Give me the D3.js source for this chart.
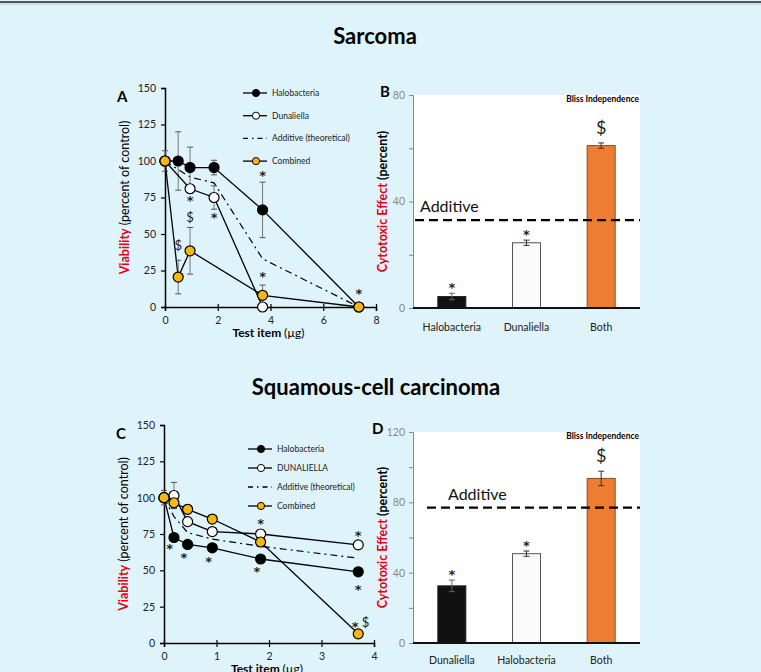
<!DOCTYPE html>
<html>
<head>
<meta charset="utf-8">
<script src="https://cdn.jsdelivr.net/npm/d3@7"></script>
<style>
  body { margin: 0; background: #dff3fa; }
  svg { display: block; font-family: Lato, "Open Sans", sans-serif; }
</style>
</head>
<body>
<div id="chart"></div>
<script>
// --- Data: Sarcoma (panel A) ---
const sarcHaloX = [0, 0.5, 0.95, 1.86, 3.7, 7.35];
const sarcHaloY = [100, 100, 95.5, 95.5, 66.5, 0];
const sarcHaloErr = [7, 20, 14, 5, 19, 0];
const sarcDunaX = [0, 0.95, 1.86, 3.7];
const sarcDunaY = [100, 81, 75, 0];
const sarcDunaErr = [0, 0, 8, 0];
const sarcAddX = [0, 0.95, 1.86, 3.7, 7.35];
const sarcAddY = [100, 89, 85, 33, 0];
const sarcCombX = [0, 0.5, 0.95, 3.7, 7.35];
const sarcCombY = [100, 20.5, 38.5, 8, 0];
const sarcCombErr = [0, 11.5, 16, 7, 0];
const sarcMarks = [
  { x: 0.95, y: 70, t: "*" }, { x: 0.95, y: 58, t: "$" }, { x: 0.5, y: 39, t: "$" },
  { x: 1.86, y: 58, t: "*" }, { x: 3.7, y: 87, t: "*" }, { x: 3.7, y: 17.5, t: "*" },
  { x: 7.35, y: 6, t: "*" }
];

// --- Data: Sarcoma bars (panel B) ---
const sarcBarCats = ["Halobacteria", "Dunaliella", "Both"];
const sarcBarVals = [4.3, 24.5, 61];
const sarcBarErr = [1.2, 1, 1];
const sarcBarMarks = ["*", "*", "$"];
const sarcAdditive = 33;

// --- Data: Squamous-cell carcinoma (panel C) ---
const sqHaloX = [0, 0.19, 0.45, 0.92, 1.84, 3.7];
const sqHaloY = [100, 72.6, 67.8, 65.5, 57.8, 49];
const sqDunaX = [0, 0.19, 0.45, 0.92, 1.84, 3.7];
const sqDunaY = [100, 101.5, 83.5, 76.7, 75, 67.5];
const sqDunaErr = [5, 9, 0, 0, 3, 0];
const sqAddX = [0, 0.19, 0.45, 0.92, 1.84, 3.7];
const sqAddY = [100, 87, 76, 71.5, 66.5, 58.4];
const sqCombX = [0, 0.19, 0.45, 0.92, 1.84, 3.7];
const sqCombY = [100, 96.5, 92, 85.3, 69.5, 6.3];
const sqCombErr = [0, 4, 3, 0, 0, 0];
const sqMarks = [
  { x: 0.11, y: 62, t: "*" }, { x: 0.38, y: 56, t: "*" }, { x: 0.85, y: 53, t: "*" },
  { x: 1.77, y: 46, t: "*" }, { x: 3.7, y: 34, t: "*" }, { x: 1.84, y: 79, t: "*" },
  { x: 3.7, y: 71, t: "*" }, { x: 3.64, y: 8.5, t: "*" }, { x: 3.84, y: 11, t: "$" }
];

// --- Data: Squamous-cell bars (panel D) ---
const sqBarCats = ["Dunaliella", "Halobacteria", "Both"];
const sqBarVals = [32.5, 50.8, 93.6];
const sqBarErr = [3.3, 1.5, 4.1];
const sqBarMarks = ["*", "*", "$"];
const sqAdditive = 77;

const W = 761, H = 672;
const RED = "#e3000f";
const GOLD = "#f6b70e";
const STAR_FONT = "'DejaVu Sans', sans-serif";

const svg = d3.select("#chart").append("svg")
    .attr("width", W)
    .attr("height", H);

svg.append("rect").attr("width", W).attr("height", H).attr("fill", "#dff3fa");
svg.append("line").attr("x1", 0).attr("x2", W).attr("y1", 2).attr("y2", 2)
    .attr("stroke", "#555").attr("stroke-width", 2);
svg.append("line").attr("x1", 0).attr("x2", W).attr("y1", 4).attr("y2", 4)
    .attr("stroke", "#b5c4c9").attr("stroke-width", 1);

// Titles
svg.append("text").attr("x", 375).attr("y", 44).attr("text-anchor", "middle")
    .attr("font-size", 22).attr("font-weight", "bold").text("Sarcoma");
svg.append("text").attr("x", 376).attr("y", 395).attr("text-anchor", "middle")
    .attr("font-size", 22).attr("font-weight", "bold").text("Squamous-cell carcinoma");

function markText(sel) {
    sel.attr("font-family", d => d.t === "*" ? STAR_FONT : null)
        .attr("font-weight", d => d.t === "*" ? "bold" : null)
        .attr("font-size", d => d.t === "$" ? 13 : 13)
        .attr("fill", "#222")
        .text(d => d.t);
}

// --- Line panel ---
function drawLinePanel(cfg) {
    const x = d3.scaleLinear().domain(cfg.xDomain).range(cfg.xRange);
    const y = d3.scaleLinear().domain([0, 150]).range(cfg.yRange);
    const g = svg.append("g");

    // axes
    const yAxis = g.append("g").attr("transform", `translate(${cfg.xRange[0]},0)`)
        .call(d3.axisLeft(y).tickValues([0, 25, 50, 75, 100, 125, 150]).tickSize(4).tickPadding(5));
    const xAxis = g.append("g").attr("transform", `translate(0,${cfg.yRange[0]})`)
        .call(d3.axisBottom(x).ticks(cfg.xTicks).tickSize(4).tickPadding(6));
    [xAxis, yAxis].forEach(a => {
        a.select(".domain").attr("stroke", "#000").attr("stroke-width", 1.5);
        a.selectAll(".tick line").attr("stroke", "#000").attr("stroke-width", 1.2);
        a.selectAll(".tick text").attr("font-size", 10.5).attr("fill", "#222")
            .attr("font-family", "Lato, sans-serif");
    });
    xAxis.selectAll(".tick line").attr("y1", -3).attr("y2", 4);

    const line = d3.line().x(d => x(d[0])).y(d => y(d[1]));
    const zip = (xs, ys) => xs.map((v, i) => [v, ys[i]]);

    // additive (theoretical) dash-dot
    g.append("path").datum(zip(cfg.addX, cfg.addY)).attr("d", line)
        .attr("fill", "none").attr("stroke", "#000").attr("stroke-width", 1.2)
        .attr("stroke-dasharray", "7,4,2,4");

    cfg.series.forEach(s => {
        const pts = zip(s.x, s.y);
        g.append("path").datum(pts).attr("d", line)
            .attr("fill", "none").attr("stroke", "#000").attr("stroke-width", 1.3);
        // error bars
        s.x.forEach((xv, i) => {
            const e = s.err ? s.err[i] : 0;
            if (!e) return;
            const cx = x(xv);
            g.append("line").attr("x1", cx).attr("x2", cx)
                .attr("y1", y(s.y[i] - e)).attr("y2", y(s.y[i] + e))
                .attr("stroke", "#777").attr("stroke-width", 1);
            [s.y[i] - e, s.y[i] + e].forEach(v => {
                g.append("line").attr("x1", cx - 3).attr("x2", cx + 3)
                    .attr("y1", y(v)).attr("y2", y(v))
                    .attr("stroke", "#555").attr("stroke-width", 1);
            });
        });
    });
    cfg.series.forEach(s => {
        g.selectAll(null).data(zip(s.x, s.y)).join("circle")
            .attr("cx", d => x(d[0])).attr("cy", d => y(d[1])).attr("r", 5)
            .attr("fill", s.fill).attr("stroke", "#000").attr("stroke-width", 1.2);
    });

    // significance marks
    g.selectAll(null).data(cfg.marks).join("text")
        .attr("x", d => x(d.x)).attr("y", d => y(d.y))
        .attr("text-anchor", "middle")
        .call(markText);

    // legend
    cfg.legend.forEach((item, i) => {
        const ly = cfg.legendY + i * cfg.legendStep;
        const lx = cfg.legendX;
        g.append("line").attr("x1", lx).attr("x2", lx + 24).attr("y1", ly).attr("y2", ly)
            .attr("stroke", "#000").attr("stroke-width", 1.3)
            .attr("stroke-dasharray", item.dash ? "5,4,1.5,4" : null);
        if (item.fill) {
            g.append("circle").attr("cx", lx + 13).attr("cy", ly).attr("r", 3.6)
                .attr("fill", item.fill).attr("stroke", "#000").attr("stroke-width", 1);
        }
        g.append("text").attr("x", lx + 29).attr("y", ly + 3)
            .attr("font-size", 8.5).attr("fill", "#222").text(item.label);
    });

    // axis titles
    const xl = g.append("text").attr("x", (cfg.xRange[0] + cfg.xRange[1]) / 2 - 2)
        .attr("y", cfg.yRange[0] + 30).attr("text-anchor", "middle").attr("font-size", 12);
    xl.append("tspan").attr("font-weight", "bold").text("Test item ");
    xl.append("tspan").text("(\u00b5g)");

    const yl = g.append("text")
        .attr("transform", `translate(${cfg.xRange[0] - 36},${(cfg.yRange[0] + cfg.yRange[1]) / 2}) rotate(-90)`)
        .attr("text-anchor", "middle").attr("font-size", 12.5);
    yl.append("tspan").attr("font-weight", "bold").attr("fill", RED).text("Viability");
    yl.append("tspan").text(" (percent of control)");

    g.append("text").attr("x", cfg.xRange[0] - 48).attr("y", cfg.yRange[1] + 14)
        .attr("font-size", 15).attr("font-weight", "bold").text(cfg.letter);
}

// --- Bar panel ---
function drawBarPanel(cfg) {
    const x = d3.scalePoint().domain(cfg.cats).range(cfg.xRange).padding(0.52);
    const y = d3.scaleLinear().domain([0, cfg.yMax]).range(cfg.yRange);
    const g = svg.append("g");
    const bw = 28;

    g.append("rect").attr("x", cfg.xRange[0]).attr("y", cfg.yRange[1])
        .attr("width", cfg.xRange[1] - cfg.xRange[0]).attr("height", cfg.yRange[0] - cfg.yRange[1])
        .attr("fill", "#fff");

    const yAxis = g.append("g").attr("transform", `translate(${cfg.xRange[0]},0)`)
        .call(d3.axisLeft(y).tickValues(d3.range(0, cfg.yMax + 1, 20)).tickSize(4).tickPadding(4)
            .tickFormat(d => (d % 40 === 0) ? d : ""));
    yAxis.select(".domain").attr("stroke", "#888");
    yAxis.selectAll(".tick line").attr("stroke", "#888");
    yAxis.selectAll(".tick text").attr("font-size", 10.5).attr("fill", "#888")
        .attr("font-family", "Lato, sans-serif");

    const fills = ["#111", "#fafafa", "#ed7d31"];
    const strokes = ["#222", "#555", "#8b4a1c"];
    cfg.cats.forEach((c, i) => {
        const cx = x(c);
        g.append("rect").attr("x", cx - bw / 2).attr("y", y(cfg.vals[i]))
            .attr("width", bw).attr("height", y(0) - y(cfg.vals[i]))
            .attr("fill", fills[i]).attr("stroke", strokes[i]).attr("stroke-width", 1);
        const lo = y(cfg.vals[i] - cfg.err[i]), hi = y(cfg.vals[i] + cfg.err[i]);
        const ec = i === 0 ? "#666" : "#333";
        g.append("line").attr("x1", cx).attr("x2", cx).attr("y1", lo).attr("y2", hi)
            .attr("stroke", ec).attr("stroke-width", 1);
        [lo, hi].forEach(v => g.append("line").attr("x1", cx - 3).attr("x2", cx + 3)
            .attr("y1", v).attr("y2", v).attr("stroke", ec).attr("stroke-width", 1));
        const mk = cfg.marks[i];
        g.append("text").datum({ t: mk })
            .attr("x", cx).attr("y", hi - (mk === "$" ? 9 : 1))
            .attr("text-anchor", "middle")
            .call(markText)
            .attr("font-size", mk === "$" ? 18 : 13);
        g.append("text").attr("x", cx).attr("y", cfg.yRange[0] + cfg.catDy)
            .attr("text-anchor", "middle").attr("font-size", 10.5).attr("fill", "#222").text(c);
    });

    g.append("line").attr("x1", cfg.xRange[0]).attr("x2", cfg.xRange[1])
        .attr("y1", cfg.yRange[0]).attr("y2", cfg.yRange[0])
        .attr("stroke", "#111").attr("stroke-width", 2);

    // additive threshold
    g.append("line").attr("x1", cfg.addStart).attr("x2", cfg.xRange[1])
        .attr("y1", y(cfg.additive)).attr("y2", y(cfg.additive))
        .attr("stroke", "#000").attr("stroke-width", 2.2).attr("stroke-dasharray", "9,5");
    g.append("text").attr("x", cfg.addTextX).attr("y", y(cfg.additive) - 8)
        .attr("font-size", 16).attr("fill", "#111").text("Additive");

    g.append("text").attr("x", cfg.xRange[1] - 1).attr("y", cfg.yRange[1] + 7)
        .attr("text-anchor", "end").attr("font-size", 8.5).attr("font-weight", "bold")
        .text("Bliss Independence");

    const yl = g.append("text")
        .attr("transform", `translate(${cfg.xRange[0] - 26},${(cfg.yRange[0] + cfg.yRange[1]) / 2}) rotate(-90)`)
        .attr("text-anchor", "middle").attr("font-size", 12.5).attr("font-weight", "bold");
    yl.append("tspan").attr("fill", RED).text("Cytotoxic Effect");
    yl.append("tspan").text(" (percent)");

    g.append("text").attr("x", cfg.letterX).attr("y", cfg.yRange[1] + 2)
        .attr("font-size", 15).attr("font-weight", "bold").text(cfg.letter);
}

drawLinePanel({
    letter: "A", xDomain: [0, 8], xTicks: 4, xRange: [165, 376], yRange: [307, 88],
    addX: sarcAddX, addY: sarcAddY,
    series: [
        { x: sarcHaloX, y: sarcHaloY, err: sarcHaloErr, fill: "#000" },
        { x: sarcDunaX, y: sarcDunaY, err: sarcDunaErr, fill: "#fff" },
        { x: sarcCombX, y: sarcCombY, err: sarcCombErr, fill: GOLD }
    ],
    marks: sarcMarks,
    legendX: 243, legendY: 93, legendStep: 22.7,
    legend: [
        { label: "Halobacteria", fill: "#000" },
        { label: "Dunaliella", fill: "#fff" },
        { label: "Additive (theoretical)", dash: true },
        { label: "Combined", fill: GOLD }
    ]
});

drawBarPanel({
    letter: "B", letterX: 380, cats: sarcBarCats, vals: sarcBarVals, err: sarcBarErr, marks: sarcBarMarks,
    yMax: 80, xRange: [413, 640], yRange: [308, 95], catDy: 23,
    additive: sarcAdditive, addStart: 415, addTextX: 420
});

drawLinePanel({
    letter: "C", xDomain: [0, 4], xTicks: 4, xRange: [164, 374], yRange: [643, 425],
    addX: sqAddX, addY: sqAddY,
    series: [
        { x: sqHaloX, y: sqHaloY, fill: "#000" },
        { x: sqDunaX, y: sqDunaY, err: sqDunaErr, fill: "#fff" },
        { x: sqCombX, y: sqCombY, err: sqCombErr, fill: GOLD }
    ],
    marks: sqMarks,
    legendX: 248, legendY: 449, legendStep: 19,
    legend: [
        { label: "Halobacteria", fill: "#000" },
        { label: "DUNALIELLA", fill: "#fff" },
        { label: "Additive (theoretical)", dash: true },
        { label: "Combined", fill: GOLD }
    ]
});

drawBarPanel({
    letter: "D", letterX: 372, cats: sqBarCats, vals: sqBarVals, err: sqBarErr, marks: sqBarMarks,
    yMax: 120, xRange: [413, 640], yRange: [643, 432], catDy: 21,
    additive: sqAdditive, addStart: 427, addTextX: 448
});
</script>
</body>
</html>
